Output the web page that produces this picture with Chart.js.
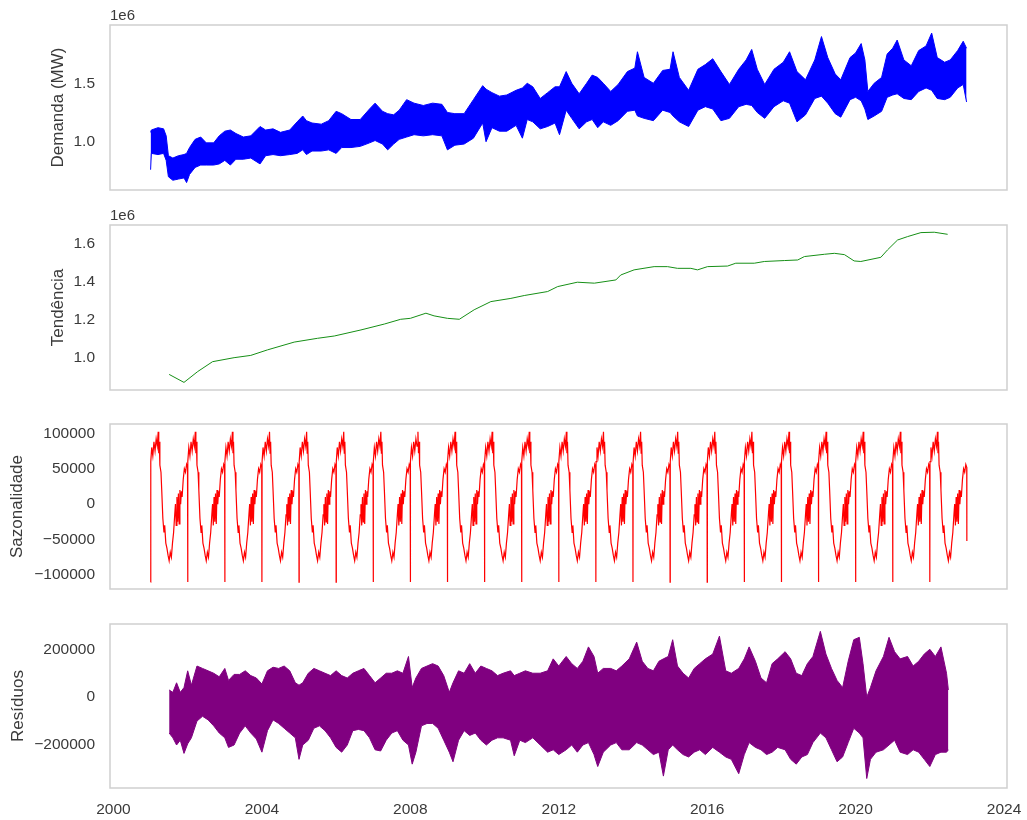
<!DOCTYPE html>
<html>
<head>
<meta charset="utf-8">
<script src="https://cdn.jsdelivr.net/npm/chart.js@4.4.0/dist/chart.umd.min.js"></script>
<style>
  body { margin: 0; background: #fff; }
  #wrap { position: relative; width: 1027px; height: 820px; }
  canvas { position: absolute; left: 0; }
</style>
</head>
<body>
<div id="wrap">
  <canvas id="c1" width="1027" height="200" style="top:0px"></canvas>
  <canvas id="c2" width="1027" height="200" style="top:200px"></canvas>
  <canvas id="c3" width="1027" height="200" style="top:400px"></canvas>
  <canvas id="c4" width="1027" height="220" style="top:600px"></canvas>
</div>
<script>
// x axis (decimal years)
const yearTicks = [2000, 2004, 2008, 2012, 2016, 2020, 2024];

// Demanda (MW): upper / lower edge of the hourly band
const demandYears = [2001.00, 2001.02, 2001.20, 2001.35, 2001.42, 2001.48, 2001.60, 2001.75, 2001.90, 2001.97,
  2002.05, 2002.20, 2002.35, 2002.50, 2002.70, 2002.85, 2003.00, 2003.15, 2003.30, 2003.50,
  2003.70, 2003.95, 2004.10, 2004.30, 2004.50, 2004.75, 2004.95, 2005.10, 2005.20, 2005.35,
  2005.60, 2005.80, 2006.00, 2006.15, 2006.40, 2006.65, 2006.90, 2007.05, 2007.25, 2007.39,
  2007.55, 2007.70, 2007.90, 2008.10, 2008.35, 2008.60, 2008.85, 2009.00, 2009.20, 2009.45,
  2009.70, 2009.95, 2010.04, 2010.20, 2010.40, 2010.60, 2010.85, 2011.02, 2011.15, 2011.30,
  2011.50, 2011.70, 2011.90, 2012.02, 2012.20, 2012.35, 2012.55, 2012.75, 2012.90, 2013.05,
  2013.20, 2013.40, 2013.60, 2013.85, 2014.05, 2014.12, 2014.30, 2014.55, 2014.80, 2015.00,
  2015.08, 2015.25, 2015.50, 2015.75, 2015.95, 2016.15, 2016.37, 2016.60, 2016.85, 2017.05,
  2017.20, 2017.35, 2017.55, 2017.80, 2018.05, 2018.22, 2018.42, 2018.65, 2018.90, 2019.08,
  2019.25, 2019.45, 2019.60, 2019.85, 2020.00, 2020.15, 2020.25, 2020.33, 2020.50, 2020.70,
  2020.85, 2021.00, 2021.12, 2021.30, 2021.50, 2021.70, 2021.90, 2022.05, 2022.20, 2022.40,
  2022.55, 2022.75, 2022.90, 2022.99];
const demandHigh = [1080000, 1100000, 1120000, 1110000, 1050000, 880000, 860000, 880000, 890000, 900000,
  950000, 1020000, 1040000, 990000, 990000, 1050000, 1090000, 1100000, 1070000, 1040000,
  1050000, 1130000, 1100000, 1110000, 1080000, 1100000, 1170000, 1220000, 1180000, 1160000,
  1150000, 1180000, 1260000, 1240000, 1190000, 1190000, 1280000, 1330000, 1260000, 1240000,
  1230000, 1270000, 1360000, 1330000, 1310000, 1330000, 1320000, 1250000, 1240000, 1240000,
  1360000, 1480000, 1450000, 1420000, 1390000, 1400000, 1440000, 1460000, 1500000, 1470000,
  1370000, 1420000, 1470000, 1470000, 1600000, 1500000, 1410000, 1500000, 1570000, 1550000,
  1500000, 1430000, 1490000, 1600000, 1630000, 1770000, 1550000, 1500000, 1610000, 1620000,
  1770000, 1550000, 1440000, 1620000, 1660000, 1710000, 1600000, 1490000, 1620000, 1700000,
  1790000, 1620000, 1490000, 1620000, 1680000, 1770000, 1600000, 1530000, 1700000, 1900000,
  1720000, 1580000, 1530000, 1720000, 1760000, 1840000, 1700000, 1430000, 1500000, 1550000,
  1750000, 1800000, 1870000, 1700000, 1650000, 1780000, 1820000, 1930000, 1720000, 1680000,
  1700000, 1780000, 1860000, 1800000];
const demandLow = [760000, 900000, 890000, 900000, 840000, 700000, 670000, 680000, 690000, 650000,
  720000, 780000, 800000, 800000, 800000, 810000, 840000, 800000, 850000, 850000,
  860000, 810000, 880000, 890000, 880000, 890000, 900000, 930000, 890000, 920000,
  920000, 930000, 900000, 950000, 950000, 960000, 990000, 1010000, 980000, 930000,
  980000, 1020000, 1040000, 1060000, 1050000, 1060000, 1050000, 930000, 970000, 980000,
  1030000, 1160000, 1000000, 1120000, 1090000, 1090000, 1140000, 1030000, 1190000, 1170000,
  1110000, 1130000, 1160000, 1060000, 1270000, 1200000, 1110000, 1170000, 1190000, 1120000,
  1170000, 1140000, 1180000, 1260000, 1270000, 1220000, 1200000, 1180000, 1270000, 1250000,
  1220000, 1170000, 1130000, 1270000, 1300000, 1280000, 1180000, 1200000, 1300000, 1320000,
  1310000, 1250000, 1200000, 1300000, 1350000, 1330000, 1170000, 1230000, 1370000, 1390000,
  1330000, 1240000, 1210000, 1360000, 1380000, 1350000, 1280000, 1190000, 1220000, 1260000,
  1380000, 1400000, 1410000, 1370000, 1360000, 1430000, 1460000, 1440000, 1370000, 1360000,
  1380000, 1460000, 1490000, 1340000];
const demandTicks = [1000000, 1500000];

// Tendência
const trendYears = [2001.50, 2001.90, 2002.27, 2002.67, 2003.25, 2003.70, 2004.15, 2004.87, 2005.50, 2005.95,
  2006.67, 2007.30, 2007.74, 2008.00, 2008.42, 2008.64, 2009.00, 2009.32, 2009.72, 2010.17,
  2010.71, 2011.07, 2011.70, 2011.97, 2012.50, 2012.96, 2013.54, 2013.67, 2014.03, 2014.57,
  2014.93, 2015.20, 2015.56, 2015.74, 2016.01, 2016.55, 2016.77, 2017.27, 2017.54, 2018.08,
  2018.44, 2018.62, 2019.16, 2019.43, 2019.70, 2019.96, 2020.14, 2020.68, 2020.86, 2021.13,
  2021.40, 2021.76, 2022.12, 2022.48];
const trendValues = [910000, 868000, 925000, 977000, 998000, 1010000, 1039000, 1080000, 1100000, 1112000,
  1144000, 1175000, 1200000, 1205000, 1232000, 1218000, 1205000, 1200000, 1250000, 1293000,
  1310000, 1325000, 1346000, 1372000, 1395000, 1390000, 1407000, 1433000, 1460000, 1477000,
  1477000, 1468000, 1468000, 1460000, 1477000, 1480000, 1495000, 1495000, 1504000, 1509000,
  1512000, 1530000, 1542000, 1547000, 1540000, 1507000, 1504000, 1526000, 1565000, 1617000,
  1635000, 1656000, 1658000, 1647000];
const trendTicks = [1000000, 1200000, 1400000, 1600000];

// Sazonalidade: one yearly cycle (fraction of year -> value), the same every year
const seasonYears = [2001, 2002, 2003, 2004, 2005, 2006, 2007, 2008, 2009, 2010, 2011,
  2012, 2013, 2014, 2015, 2016, 2017, 2018, 2019, 2020, 2021, 2022];
const seasonFrac = [0, 0.005, 0.03, 0.06, 0.09, 0.12, 0.15, 0.18, 0.205, 0.22,
  0.235, 0.25, 0.28, 0.30, 0.33, 0.36, 0.38, 0.41, 0.44, 0.47,
  0.50, 0.53, 0.56, 0.59, 0.62, 0.65, 0.67, 0.69, 0.71, 0.73,
  0.75, 0.77, 0.79, 0.81, 0.83, 0.85, 0.88, 0.91, 0.94, 0.97, 0.995];
const seasonShape = [-110000, 60000, 80000, 68000, 88000, 75000, 92000, 82000, 102000, 72000,
  88000, 55000, 45000, 20000, -20000, -40000, -30000, -55000, -62000, -72000,
  -80000, -68000, -75000, -55000, -40000, -15000, 0, -30000, 10000, -25000,
  15000, -28000, 20000, 0, 18000, 10000, 35000, 50000, 45000, 56000, 52000];
const seasonLast = { x: 2022.998, y: -52000 };
const seasonTicks = [-100000, -50000, 0, 50000, 100000];

// Resíduos: upper / lower edge of the band
const residYears = [2001.50, 2001.60, 2001.70, 2001.80, 2001.90, 2002.00, 2002.10, 2002.25, 2002.40, 2002.55,
  2002.70, 2002.85, 2003.00, 2003.10, 2003.25, 2003.40, 2003.55, 2003.70, 2003.85, 2004.00,
  2004.15, 2004.30, 2004.45, 2004.60, 2004.75, 2004.90, 2005.00, 2005.10, 2005.25, 2005.40,
  2005.55, 2005.70, 2005.85, 2006.00, 2006.15, 2006.30, 2006.45, 2006.60, 2006.75, 2006.90,
  2007.05, 2007.20, 2007.35, 2007.50, 2007.65, 2007.80, 2007.95, 2008.05, 2008.15, 2008.30,
  2008.45, 2008.60, 2008.75, 2008.90, 2009.05, 2009.15, 2009.30, 2009.45, 2009.60, 2009.75,
  2009.90, 2010.05, 2010.20, 2010.35, 2010.50, 2010.70, 2010.80, 2010.95, 2011.10, 2011.30,
  2011.50, 2011.70, 2011.85, 2012.00, 2012.20, 2012.35, 2012.50, 2012.65, 2012.80, 2012.95,
  2013.05, 2013.20, 2013.40, 2013.55, 2013.70, 2013.90, 2014.10, 2014.25, 2014.40, 2014.55,
  2014.70, 2014.82, 2014.95, 2015.07, 2015.20, 2015.35, 2015.50, 2015.65, 2015.80, 2015.95,
  2016.15, 2016.33, 2016.50, 2016.65, 2016.85, 2017.00, 2017.13, 2017.30, 2017.45, 2017.60,
  2017.75, 2017.90, 2018.10, 2018.25, 2018.40, 2018.55, 2018.70, 2018.85, 2019.05, 2019.20,
  2019.35, 2019.50, 2019.65, 2019.80, 2019.95, 2020.10, 2020.20, 2020.30, 2020.40, 2020.55,
  2020.75, 2020.90, 2021.05, 2021.20, 2021.40, 2021.55, 2021.70, 2021.85, 2022.00, 2022.15,
  2022.30, 2022.45, 2022.50];
const residHigh = [30000, 20000, 60000, 20000, 40000, 110000, 50000, 130000, 120000, 110000,
  100000, 85000, 120000, 70000, 95000, 95000, 110000, 90000, 80000, 55000,
  110000, 125000, 120000, 130000, 110000, 60000, 50000, 60000, 100000, 120000,
  110000, 100000, 90000, 110000, 90000, 80000, 100000, 110000, 120000, 90000,
  60000, 80000, 100000, 100000, 110000, 100000, 170000, 40000, 80000, 120000,
  130000, 140000, 130000, 90000, 20000, 60000, 110000, 100000, 140000, 100000,
  130000, 120000, 110000, 90000, 100000, 110000, 90000, 100000, 110000, 100000,
  100000, 110000, 160000, 130000, 170000, 140000, 120000, 150000, 210000, 170000,
  100000, 120000, 120000, 110000, 130000, 160000, 230000, 150000, 120000, 110000,
  150000, 160000, 170000, 240000, 130000, 100000, 80000, 120000, 140000, 160000,
  180000, 255000, 110000, 100000, 120000, 160000, 210000, 150000, 80000, 60000,
  140000, 160000, 190000, 160000, 100000, 90000, 140000, 170000, 275000, 180000,
  120000, 70000, 40000, 150000, 240000, 250000, 140000, 0, 40000, 110000,
  170000, 250000, 190000, 160000, 170000, 130000, 150000, 180000, 200000, 170000,
  210000, 100000, 30000];
const residLow = [-150000, -170000, -200000, -180000, -235000, -195000, -170000, -100000, -80000, -95000,
  -120000, -150000, -170000, -210000, -200000, -150000, -120000, -150000, -175000, -230000,
  -140000, -95000, -110000, -130000, -150000, -170000, -260000, -200000, -180000, -130000,
  -120000, -140000, -170000, -210000, -230000, -200000, -140000, -135000, -140000, -170000,
  -220000, -225000, -180000, -150000, -140000, -180000, -200000, -280000, -230000, -120000,
  -110000, -110000, -130000, -180000, -230000, -270000, -180000, -140000, -160000, -150000,
  -180000, -200000, -180000, -170000, -170000, -180000, -245000, -180000, -190000, -170000,
  -200000, -230000, -220000, -240000, -220000, -200000, -230000, -200000, -190000, -240000,
  -290000, -230000, -200000, -190000, -220000, -220000, -190000, -200000, -220000, -240000,
  -230000, -330000, -220000, -200000, -220000, -240000, -250000, -230000, -220000, -240000,
  -210000, -230000, -250000, -260000, -320000, -240000, -190000, -210000, -220000, -240000,
  -230000, -210000, -220000, -260000, -280000, -250000, -240000, -190000, -150000, -170000,
  -220000, -270000, -250000, -190000, -130000, -150000, -170000, -340000, -260000, -230000,
  -220000, -200000, -180000, -230000, -240000, -220000, -230000, -260000, -290000, -240000,
  -230000, -230000, -220000];
const residTicks = [-200000, 0, 200000];

const FONT = "'Liberation Sans', Arial, sans-serif";
const INK = '#3a3a3a';

const toPoints = (xs, ys) => xs.map((x, i) => ({ x: x, y: ys[i] }));
const minus = v => (v < 0 ? '\u2212' + Math.abs(v) : String(v));

const seasonPoints = [];
seasonYears.forEach(yr => {
  seasonFrac.forEach((f, i) => seasonPoints.push({ x: yr + f, y: seasonShape[i] }));
});
seasonPoints.push(seasonLast);

// light grey box round each panel + the "1e6" offset text
const framePlugin = {
  id: 'frame',
  afterDraw(chart, args, opts) {
    const { ctx, chartArea: a } = chart;
    ctx.save();
    ctx.strokeStyle = '#cfcfcf';
    ctx.lineWidth = 1.5;
    ctx.strokeRect(a.left, a.top, a.right - a.left, a.bottom - a.top);
    if (opts.offsetText) {
      ctx.fillStyle = INK;
      ctx.font = '15px ' + FONT;
      ctx.textAlign = 'left';
      ctx.textBaseline = 'middle';
      ctx.fillText(opts.offsetText, a.left, a.top - 9);
    }
    ctx.restore();
  }
};

function makePanel(id, datasets, cfg) {
  return new Chart(document.getElementById(id), {
    type: 'line',
    data: { datasets: datasets },
    options: {
      responsive: false,
      animation: false,
      events: [],
      layout: { padding: { left: 0, right: 20, top: cfg.padTop, bottom: cfg.padBottom } },
      elements: { point: { radius: 0 }, line: { tension: 0 } },
      plugins: {
        legend: { display: false },
        tooltip: { enabled: false },
        frame: { offsetText: cfg.offsetText || '' }
      },
      scales: {
        x: {
          type: 'linear',
          min: 1999.906,
          max: 2024.08,
          display: !!cfg.showX,
          grid: { display: false, drawTicks: false },
          border: { display: false },
          ticks: { color: INK, font: { family: FONT, size: 15.5 }, padding: 12, maxRotation: 0,
                   callback: v => String(v) },
          afterBuildTicks: s => { s.ticks = yearTicks.map(v => ({ value: v })); },
          afterFit: s => {
            s.height = cfg.showX ? 32 : 0;
            s.paddingLeft = 0;
            s.paddingRight = 0;
          }
        },
        y: {
          min: cfg.yMin,
          max: cfg.yMax,
          grid: { display: false, drawTicks: false },
          border: { display: false },
          ticks: { color: INK, font: { family: FONT, size: 15.5 }, padding: 15, callback: cfg.fmt },
          afterBuildTicks: s => { s.ticks = cfg.ticks.map(v => ({ value: v })); },
          afterFit: s => {
            s.width = 110;
            s.paddingTop = 0;
            s.paddingBottom = 0;
          },
          title: { display: true, text: cfg.title, color: INK, font: { family: FONT, size: 17 },
                   padding: { top: cfg.titlePad, bottom: 0 } }
        }
      }
    },
    plugins: [framePlugin]
  });
}

makePanel('c1', [
  { data: toPoints(demandYears, demandHigh), borderColor: '#0000ff', borderWidth: 1, fill: false },
  { data: toPoints(demandYears, demandLow), borderColor: '#0000ff', borderWidth: 1, fill: '-1', backgroundColor: '#0000ff' }
], { padTop: 25, padBottom: 10, yMin: 586500, yMax: 1999000, ticks: demandTicks,
     fmt: v => (v / 1e6).toFixed(1), title: 'Demanda (MW)', titlePad: 48, offsetText: '1e6' });

makePanel('c2', [
  { data: toPoints(trendYears, trendValues), borderColor: '#168f16', borderWidth: 1, fill: false }
], { padTop: 25, padBottom: 10, yMin: 828000, yMax: 1696000, ticks: trendTicks,
     fmt: v => (v / 1e6).toFixed(1), title: 'Tendência', titlePad: 48, offsetText: '1e6' });

makePanel('c3', [
  { data: seasonPoints, borderColor: '#ff0000', borderWidth: 1.2, fill: false }
], { padTop: 24, padBottom: 11, yMin: -119800, yMax: 113100, ticks: seasonTicks,
     fmt: minus, title: 'Sazonalidade', titlePad: 7 });

makePanel('c4', [
  { data: toPoints(residYears, residHigh), borderColor: '#800080', borderWidth: 1, fill: false },
  { data: toPoints(residYears, residLow), borderColor: '#800080', borderWidth: 1, fill: '-1', backgroundColor: '#800080' }
], { padTop: 24, padBottom: 0, yMin: -379700, yMax: 305700, ticks: residTicks,
     fmt: minus, title: 'Resíduos', titlePad: 8, showX: true });
</script>
</body>
</html>
